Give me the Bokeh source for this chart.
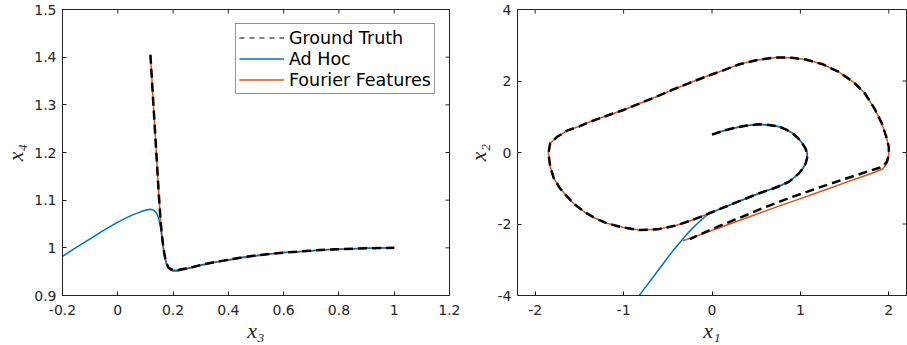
import math
from bokeh.plotting import figure
from bokeh.layouts import row
from bokeh.models import FixedTicker, Legend, LegendItem, Range1d
from bokeh.embed import file_html
from bokeh.resources import INLINE

# ---------------- data: left panel (x3 vs x4) ----------------
gt_x3 = [0.118, 0.125, 0.133, 0.141, 0.149, 0.155, 0.160, 0.165, 0.170, 0.176,
         0.183, 0.192, 0.203, 0.215, 0.230, 0.260, 0.300, 0.350, 0.400, 0.450,
         0.500, 0.550, 0.600, 0.650, 0.700, 0.750, 0.800, 0.850, 0.900, 0.950, 1.000]
gt_x4 = [1.405, 1.338, 1.261, 1.184, 1.107, 1.055, 1.025, 1.000, 0.982, 0.968,
         0.959, 0.955, 0.953, 0.953, 0.955, 0.958, 0.964, 0.970, 0.975, 0.980,
         0.984, 0.987, 0.990, 0.992, 0.994, 0.996, 0.997, 0.998, 0.999, 0.9995, 1.000]

ff_x3 = [0.118, 0.125, 0.133, 0.141, 0.149, 0.155, 0.160, 0.165, 0.170, 0.176,
         0.183, 0.192, 0.203, 0.215, 0.230, 0.260, 0.300, 0.350, 0.400, 0.450,
         0.500, 0.550, 0.600, 0.650, 0.700, 0.750, 0.800, 0.850, 0.900, 0.950, 1.000]
ff_x4 = [1.405, 1.338, 1.261, 1.184, 1.107, 1.055, 1.024, 0.998, 0.980, 0.966,
         0.957, 0.953, 0.951, 0.951, 0.953, 0.957, 0.963, 0.969, 0.974, 0.979,
         0.983, 0.987, 0.990, 0.992, 0.994, 0.996, 0.997, 0.998, 0.999, 0.9995, 1.000]

ah_x3 = [-0.25, -0.200, -0.150, -0.100, -0.050, 0.000, 0.050, 0.080, 0.100, 0.118,
         0.130, 0.140, 0.148, 0.155, 0.160, 0.165, 0.170, 0.176,
         0.183, 0.192, 0.203, 0.215, 0.230, 0.260, 0.300, 0.350, 0.400, 0.450,
         0.500, 0.550, 0.600, 0.650, 0.700, 0.750, 0.800, 0.850, 0.900, 0.950, 1.000]
ah_x4 = [0.963, 0.982, 1.001, 1.019, 1.037, 1.054, 1.068, 1.075, 1.079, 1.081,
         1.079, 1.073, 1.062, 1.042, 1.020, 1.000, 0.982, 0.968,
         0.959, 0.955, 0.953, 0.953, 0.955, 0.958, 0.964, 0.970, 0.975, 0.980,
         0.984, 0.987, 0.990, 0.992, 0.994, 0.996, 0.997, 0.998, 0.999, 0.9995, 1.000]

left_xticks = [-0.2, 0.0, 0.2, 0.4, 0.6, 0.8, 1.0, 1.2]
left_xtick_labels = ["-0.2", "0", "0.2", "0.4", "0.6", "0.8", "1", "1.2"]
left_yticks = [0.9, 1.0, 1.1, 1.2, 1.3, 1.4, 1.5]
left_ytick_labels = ["0.9", "1", "1.1", "1.2", "1.3", "1.4", "1.5"]

# ---------------- data: right panel (x1 vs x2) ----------------
inner_x1 = [0.00, 0.12, 0.24, 0.38, 0.53, 0.66, 0.76, 0.84, 0.91, 0.97, 1.02, 1.055,
            1.078, 1.075, 1.06, 1.03, 0.984, 0.93, 0.872, 0.79, 0.70, 0.535, 0.35,
            0.16, -0.03]
inner_x2 = [0.50, 0.60, 0.68, 0.75, 0.79, 0.765, 0.72, 0.64, 0.54, 0.41, 0.26, 0.12,
            -0.02, -0.16, -0.30, -0.44, -0.58, -0.70, -0.815, -0.91, -1.00, -1.14, -1.32,
            -1.51, -1.70]

loop_x1 = [-0.22, -0.42, -0.62, -0.82, -1.00, -1.19, -1.32, -1.45, -1.56, -1.64, -1.72,
           -1.79, -1.83, -1.85, -1.83, -1.75, -1.64, -1.50, -1.38, -1.20, -1.00, -0.82,
           -0.63, -0.45, -0.25, -0.05, 0.12, 0.31, 0.50, 0.72, 0.90, 1.06, 1.25, 1.43,
           1.60, 1.73, 1.84, 1.92, 1.97, 2.00, 2.00]
loop_x2 = [-1.89, -2.05, -2.15, -2.17, -2.10, -1.98, -1.84, -1.65, -1.44, -1.23, -1.00,
           -0.72, -0.40, -0.02, 0.26, 0.44, 0.61, 0.73, 0.86, 1.02, 1.19, 1.37,
           1.56, 1.75, 1.95, 2.14, 2.29, 2.47, 2.58, 2.66, 2.65, 2.60, 2.47, 2.26,
           1.97, 1.65, 1.22, 0.82, 0.45, 0.16, -0.05]

gt_tail_x1 = [1.98, 1.93, 1.80, 1.50, 1.20, 0.90, 0.60, 0.30, 0.00, -0.25]
gt_tail_x2 = [-0.25, -0.40, -0.50, -0.74, -0.99, -1.25, -1.53, -1.84, -2.14, -2.42]

ff_tail_x1 = [1.98, 1.93, 1.81, 1.60, 1.30, 1.00, 0.70, 0.40, 0.10, -0.10, -0.33]
ff_tail_x2 = [-0.30, -0.46, -0.58, -0.76, -1.03, -1.29, -1.55, -1.82, -2.09, -2.27, -2.47]

ah_tail_x1 = [-0.10, -0.18, -0.26, -0.33, -0.40, -0.47, -0.54, -0.61, -0.68, -0.75,
              -0.82, -0.89]
ah_tail_x2 = [-1.84, -2.02, -2.22, -2.42, -2.62, -2.84, -3.07, -3.30, -3.53, -3.76,
              -3.99, -4.22]

gt_x1 = inner_x1 + loop_x1 + gt_tail_x1
gt_x2 = inner_x2 + loop_x2 + gt_tail_x2
ff_x1 = inner_x1 + loop_x1 + ff_tail_x1
ff_x2 = inner_x2 + loop_x2 + ff_tail_x2
ah_x1 = inner_x1 + ah_tail_x1
ah_x2 = inner_x2 + ah_tail_x2

right_xticks = [-2, -1, 0, 1, 2]
right_xtick_labels = ["-2", "-1", "0", "1", "2"]
right_yticks = [-4, -2, 0, 2, 4]
right_ytick_labels = ["-4", "-2", "0", "2", "4"]

# ---------------- styling ----------------
BLUE = "#0072BD"
ORANGE = "#D95319"
AXC = "#262626"
TICK_FONT = "DejaVu Sans"
LABEL_FONT = "Liberation Serif"
DASH = "9 5"


def style_axis(ax, ticks, labels):
    ax.ticker = FixedTicker(ticks=ticks)
    ax.major_label_overrides = {t: l for t, l in zip(ticks, labels)}
    ax.minor_tick_line_color = None
    ax.major_tick_in = 4
    ax.major_tick_out = 0
    ax.major_tick_line_color = AXC
    ax.axis_line_color = AXC
    ax.axis_line_width = 1
    ax.major_label_text_font = TICK_FONT
    ax.major_label_text_color = AXC
    ax.major_label_text_font_size = "14px"
    ax.axis_label_text_font = LABEL_FONT
    ax.axis_label_text_font_style = "italic"
    ax.axis_label_text_font_size = "22px"
    ax.axis_label_text_color = AXC


def make_fig(width, bl, br, xr, yr, xt, xtl, yt, ytl, xlabel, ylabel, ystand):
    p = figure(width=width, height=345, output_backend="svg", toolbar_location=None,
               x_range=Range1d(*xr), y_range=Range1d(*yr),
               min_border_left=bl, min_border_right=br, min_border_top=9,
               min_border_bottom=49)
    p.xgrid.visible = False
    p.ygrid.visible = False
    p.outline_line_color = AXC
    p.outline_line_width = 1
    style_axis(p.xaxis[0], xt, xtl)
    style_axis(p.yaxis[0], yt, ytl)
    p.xaxis[0].axis_label = xlabel
    p.yaxis[0].axis_label = ylabel
    p.xaxis[0].major_label_standoff = 9
    p.yaxis[0].major_label_standoff = 6
    p.xaxis[0].axis_label_standoff = 0
    p.xaxis[0].axis_label_text_line_height = 0.9
    p.yaxis[0].axis_label_standoff = ystand
    # mirrored inward ticks on the top and right edges (half of each dash is clipped by the frame)
    p.scatter(xt, [yr[1]] * len(xt), marker="dash", size=8, angle=math.pi / 2,
              line_color=AXC, line_width=1)
    p.scatter([xr[1]] * len(yt), yt, marker="dash", size=8, angle=0,
              line_color=AXC, line_width=1)
    return p


# ---------------- left panel ----------------
p1 = make_fig(460, 58, 11, (-0.2, 1.2), (0.9, 1.5),
              left_xticks, left_xtick_labels, left_yticks, left_ytick_labels,
              "x\u2083", "x\u2084", 3)
p1.line(ff_x3, ff_x4, line_color=ORANGE, line_width=1.5)
p1.line(ah_x3, ah_x4, line_color=BLUE, line_width=1.5)
p1.line(gt_x3, gt_x4, line_color="black", line_width=2.5, line_dash=DASH)

# legend proxies (hidden copies with the thinner strokes used in the reference legend)
lg_gt = p1.line(gt_x3, gt_x4, line_color="black", line_width=1.2, line_dash="5 5", visible=False)
lg_ah = p1.line(ah_x3, ah_x4, line_color=BLUE, line_width=1.5, visible=False)
lg_ff = p1.line(ff_x3, ff_x4, line_color=ORANGE, line_width=1.5, visible=False)
legend = Legend(items=[LegendItem(label="Ground Truth", renderers=[lg_gt]),
                       LegendItem(label="Ad Hoc", renderers=[lg_ah]),
                       LegendItem(label="Fourier Features", renderers=[lg_ff])],
                location="top_right", margin=14, padding=3, spacing=0,
                glyph_width=45, glyph_height=21, label_height=21, label_standoff=5,
                label_text_font=TICK_FONT, label_text_font_size="17.5px",
                label_text_color="black", border_line_color=AXC, border_line_width=1,
                background_fill_color="white", background_fill_alpha=1.0)
p1.add_layout(legend, "center")

# ---------------- right panel ----------------
p2 = make_fig(447, 57, 1, (-2.2, 2.2), (-4, 4),
              right_xticks, right_xtick_labels, right_yticks, right_ytick_labels,
              "x\u2081", "x\u2082", 4)
p2.line(ff_x1, ff_x2, line_color=ORANGE, line_width=1.5)
p2.line(ah_x1, ah_x2, line_color=BLUE, line_width=1.5)
p2.line(gt_x1, gt_x2, line_color="black", line_width=2.5, line_dash=DASH)

layout = row(p1, p2)
open("out.html", "w").write(file_html(layout, INLINE))
